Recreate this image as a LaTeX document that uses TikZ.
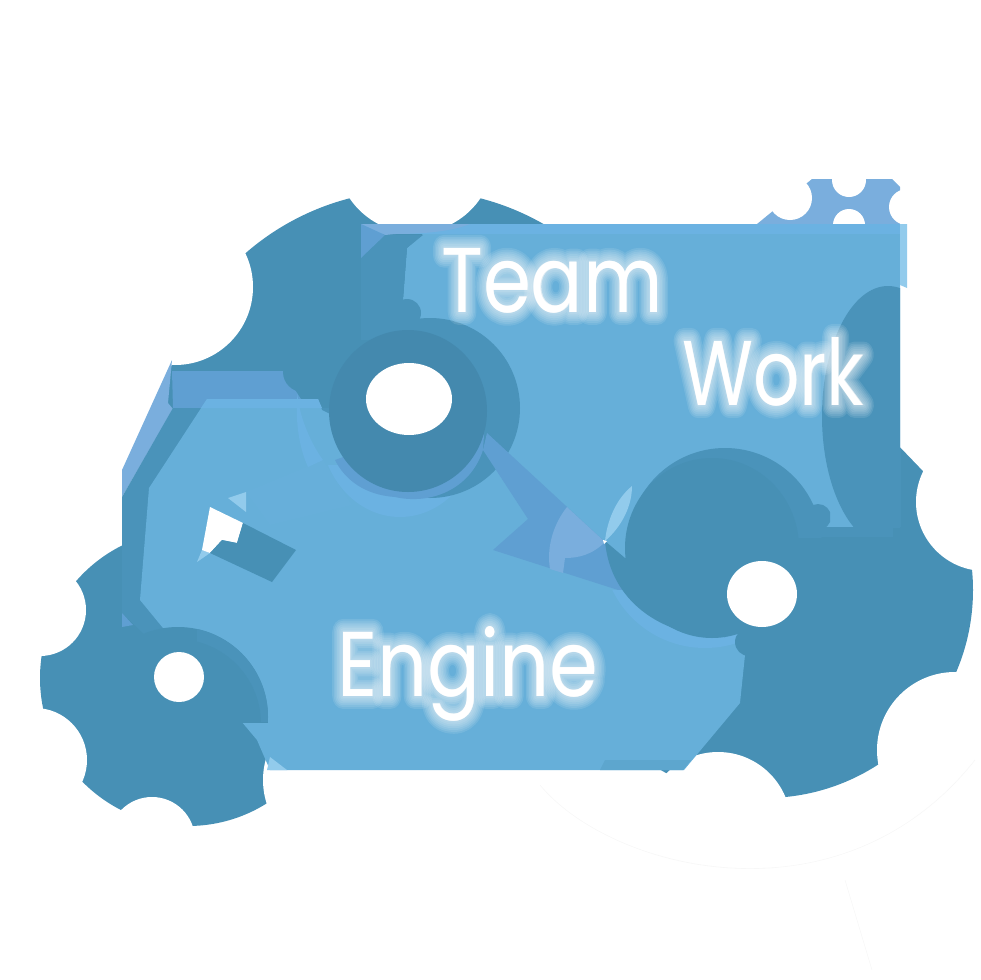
\documentclass[tikz,border=0pt]{standalone}
\usepackage{fontspec}
\usepackage{xcolor}
\setmainfont{Poppins}
\definecolor{gear}{HTML}{4790B5}
\definecolor{hub}{HTML}{4489AE}
\definecolor{teal}{HTML}{4A93BA}
\definecolor{panel}{HTML}{66AFD9}
\definecolor{arm}{HTML}{5F9FD2}
\definecolor{pale}{HTML}{7AAEDD}
\definecolor{bright}{HTML}{6BB2E2}
\definecolor{palest}{HTML}{92CBEC}
\begin{document}
\begin{tikzpicture}[x=1pt, y=-1pt, line join=round, hole/.style={fill=white}, word/.style={text=white, anchor=base west, inner sep=0pt, font=\fontsize{92}{92}\selectfont}]
	\useasboundingbox (0,0) rectangle (980,980);
	\fill[pale] (757,224) -- (812,179) -- (892,179) -- (900,187) -- (900,224) -- cycle;
	\fill[hole] (790,198) circle (22) (849,180) circle (17) (849,225) circle (16) (907,207) circle (18);
	\fill[gear] (415,440) ellipse (255 and 250);
	\fill[gear] (188,678) circle (148);
	\fill[gear] (765,590) circle (208);
	\fill[hole] (900,420) -- (900,447) -- (925,473) -- (990,473) -- (990,420) -- cycle;
	\fill[hole] (175,287) circle (78) (415,154) circle (79) (40,610) circle (46) (35,760) circle (52) (152,840) circle (43) (340,780) circle (77) (985,502) circle (69) (955,750) circle (78) (718,825) circle (73);
	\fill[pale] (172,360) -- (122,470) -- (122,497) -- (173,409) -- (168,403) -- cycle;
	\fill[arm] (172,371) -- (283,371) -- (297,393) -- (307,408) -- (173,408) -- cycle;
	\fill[teal] (173,408) -- (330,408) -- (330,640) -- (147,637) -- (122,613) -- (122,497) -- cycle;
	\fill[arm] (122,613) -- (133,625) -- (122,627) -- cycle;
	\fill[gear] (303,372) circle (20);
	\fill[panel] (423,234) -- (900,234) -- (900,527) -- (800,527) -- (735,600) -- (745,655) -- (740,703) -- (684,770) -- (270,770) -- (257,740) -- (163,628) -- (140,600) -- (149,488) -- (207,399) -- (318,399) -- (322,410) -- (330,414) -- (403,420) -- (403,300) -- (407,248) -- cycle;
	\fill[bright] (207,399) -- (318,399) -- (322,408) -- (201,408) -- cycle;
	\fill[bright] (361,224) rectangle (900,234);
	\fill[pale] (361,224) -- (470,224) .. controls (450,232) and (420,234) .. (395,234) -- (385,235) -- cycle;
	\fill[teal] (385,235) -- (423,235) -- (407,248) -- (403,300) -- (403,340) -- (361,340) -- (361,258) -- cycle;
	\fill[arm] (361,224) -- (385,235) -- (361,258) -- cycle;
	\fill[palest] (900,224) -- (907,224) -- (907,288) -- (900,285) -- cycle;
	\fill[panel!90!bright] (246,492) -- (323,460) -- (352,505) -- (270,525) -- cycle;
	\fill[bright] (297,393) .. controls (300,420) and (312,445) .. (323,460) -- (308,467) .. controls (298,445) and (296,420) .. (297,400) -- cycle;
	\fill[palest] (228,498) -- (246,492) -- (246,512) -- cycle;
	\fill[palest] (197,562) -- (202,550) -- (210,553) -- cycle;
	\fill[hole] (210,507) -- (243,523) -- (237,543) -- (222,540) -- (210,553) -- (202,550) -- cycle;
	\fill[gear] (243,523) -- (296,550) -- (272,582) -- (210,553) -- (222,540) -- (237,543) -- cycle;
	\fill[palest] (270,757) -- (287,770) -- (267,770) -- cycle;
	\fill[panel!70!gear] (605,760) -- (691,760) -- (683,770) -- (600,770) -- cycle;
	\begin{scope}
		\clip (800,234) rectangle (900,527);
		\fill[teal] (888,416) ellipse (66 and 130);
		\fill[teal] (858,527) -- (900,527) -- (900,450) -- (870,450) -- cycle;
	\end{scope}
	\begin{scope}
		\clip (300,465) rectangle (500,530);
		\fill[bright] (400,425) ellipse (80 and 92);
	\end{scope}
	\fill[teal] (430,408) circle (90);
	\fill[teal] (407,313) circle (14);
	\fill[gear] (363,323) circle (15);
	\fill[teal] (361,300) rectangle (403,340);
	\fill[arm] (486,405) -- (483,450) .. controls (470,490) and (430,505) .. (395,497) .. controls (365,495) and (345,480) .. (335,460) -- cycle;
	\fill[arm] (487,433) -- (605,542) -- (640,597) -- (493,550) -- (528,519) -- (483,450) -- cycle;
	\fill[pale] (567,507) -- (605,542) .. controls (592,555) and (578,558) .. (565,558) -- (563,573) -- (550,569) .. controls (546,545) and (555,522) .. (567,507) -- cycle;
	\fill[hub] (408,411) ellipse (79 and 81);
	\fill[hole] (409,399) ellipse (43 and 36);
	\begin{scope}
		\clip (600,590) rectangle (745,660);
		\fill[bright] (705,545) circle (103);
	\end{scope}
	\begin{scope}
		\clip (600,440) rectangle (830,537);
		\fill[teal] (725,545) circle (97);
		\fill[teal] (818,517) circle (13) (797,526) circle (12);
		\fill[teal] (807,527) rectangle (893,537);
	\end{scope}
	\fill[gear] (605,541) -- (625,558) -- (720,560) -- (725,637) .. controls (660,637) and (610,600) .. (605,541) -- cycle;
	\fill[gear] (712,548) ellipse (87 and 90);
	\fill[teal] (830,527) rectangle (893,537);
	\fill[palest] (632,486) .. controls (615,500) and (607,522) .. (605,541) .. controls (618,530) and (632,510) .. (632,486) -- cycle;
	\fill[hole] (603,540) -- (607,541) -- (604,544) -- cycle;
	\fill[gear] (749,642) circle (14);
	\fill[gear] (745,655) -- (760,620) -- (800,600) -- (790,680) -- cycle;
	\fill[hole] (762,594) ellipse (35 and 33);
	\begin{scope}
		\clip (120,600) rectangle (280,722);
		\fill[gear] (178,717) circle (90);
		\begin{scope}
			\clip (197,642) -- (197,600) -- (280,600) -- (280,722) -- (197,722) -- cycle;
			\fill[teal] (178,717) circle (90);
		\end{scope}
		\fill[gear] (176,724) circle (85);
	\end{scope}
	\fill[hole] (179,677) circle (25);
	\draw[black!3, line width=.6pt] (540,785) .. controls (610,870) and (840,930) .. (975,760);
	\draw[black!3, line width=.6pt] (845,880) -- (872,970);
	\foreach \n/\x/\y/\s/\t in {team/441/312/.84/Team, work/682/405/.79/Work, engine/337/696/.85/Engine}{
		\foreach \b in {4,8,12,16,20,24,28}{
			\node[word, opacity=.1] (\n\b) at (\x,\y) {\fontspec[FakeBold=\b]{Poppins}\fontsize{92}{92}\selectfont\scalebox{\s}[1]{\t}};
		}
		\node[word] (\n) at (\x,\y) {\scalebox{\s}[1]{\t}};
	}
\end{tikzpicture}
\end{document}
